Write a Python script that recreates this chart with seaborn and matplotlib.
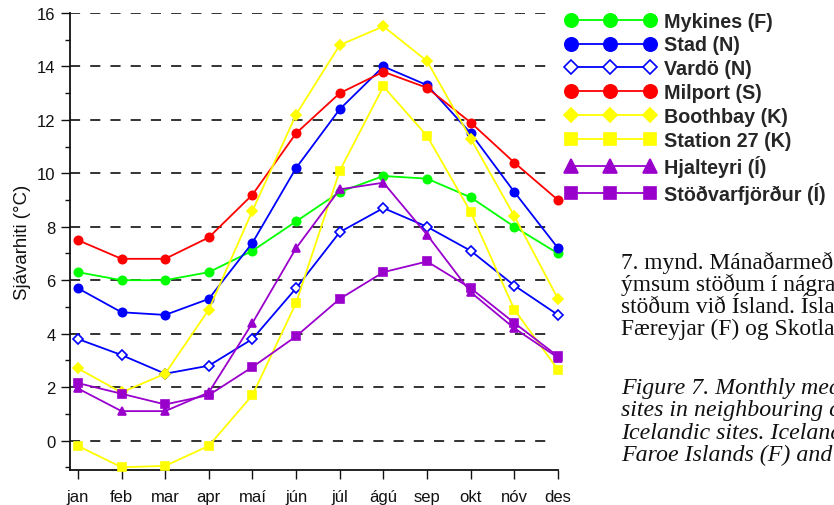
import matplotlib
matplotlib.use("Agg")
import matplotlib.pyplot as plt
import numpy as np
import pandas as pd
import seaborn as sns
from matplotlib.ticker import MultipleLocator

months = ["jan", "feb", "mar", "apr", "maí", "jún", "júl", "ágú", "sep", "okt", "nóv", "des"]

mykines = [6.3, 6.0, 6.0, 6.3, 7.1, 8.2, 9.3, 9.9, 9.8, 9.1, 8.0, 7.0]
stad = [5.7, 4.8, 4.7, 5.3, 7.4, 10.2, 12.4, 14.0, 13.3, 11.5, 9.3, 7.2]
vardo = [3.8, 3.2, 2.5, 2.8, 3.8, 5.7, 7.8, 8.7, 8.0, 7.1, 5.8, 4.7]
milport = [7.5, 6.8, 6.8, 7.6, 9.2, 11.5, 13.0, 13.8, 13.2, 11.9, 10.4, 9.0]
boothbay = [2.7, 1.8, 2.5, 4.9, 8.6, 12.2, 14.8, 15.5, 14.2, 11.3, 8.4, 5.3]
station27 = [-0.2, -1.0, -0.95, -0.2, 1.7, 5.15, 10.1, 13.25, 11.4, 8.55, 4.9, 2.65]
hjalteyri = [1.95, 1.1, 1.1, 1.8, 4.4, 7.2, 9.4, 9.65, 7.7, 5.55, 4.2, 3.1]
stodvarfjordur = [2.15, 1.75, 1.35, 1.7, 2.75, 3.9, 5.3, 6.3, 6.7, 5.7, 4.4, 3.15]

labels = ["Mykines (F)", "Stad (N)", "Vardö (N)", "Milport (S)",
          "Boothbay (K)", "Station 27 (K)", "Hjalteyri (Í)", "Stöðvarfjörður (Í)"]
values = [mykines, stad, vardo, milport, boothbay, station27, hjalteyri, stodvarfjordur]

GREEN, BLUE, RED, YELLOW, PURPLE = "#00ff00", "#0000ff", "#ff0000", "#ffff00", "#9900cc"
styles = [
    dict(color=GREEN, marker="o", mfc=GREEN, ms=6.0),
    dict(color=BLUE, marker="o", mfc=BLUE, ms=6.0),
    dict(color=BLUE, marker="D", mfc="white", ms=4.6),
    dict(color=RED, marker="o", mfc=RED, ms=6.0),
    dict(color=YELLOW, marker="D", mfc=YELLOW, ms=4.6),
    dict(color=YELLOW, marker="s", mfc=YELLOW, ms=5.8),
    dict(color=PURPLE, marker="^", mfc=PURPLE, ms=6.0),
    dict(color=PURPLE, marker="s", mfc=PURPLE, ms=5.8),
]

sns.set_theme(style="white")
plt.rcParams["font.family"] = ["Liberation Sans", "DejaVu Sans"]

fig = plt.figure(figsize=(8.34, 5.06), dpi=100)
ax = fig.add_axes([70 / 834, 1 - 470.9 / 506, 488 / 834, 456.9 / 506])

x = np.arange(len(months))
ax.set_xlim(-0.18, 11.0)
ax.set_ylim(-1.1, 16)

# dashed horizontal guides at every 2 degrees
ax.hlines(np.arange(0, 17, 2), -0.18, 10.88, colors="#222222",
          linewidth=1.3, linestyles=(0, (5.6, 5.6)), zorder=1)

for lab, vals, st in zip(labels, values, styles):
    df = pd.DataFrame({"m": x, "t": vals})
    sns.lineplot(data=df, x="m", y="t", ax=ax, label=lab, color=st["color"],
                 marker=st["marker"], markersize=st["ms"],
                 markerfacecolor=st["mfc"], markeredgecolor=st["color"],
                 markeredgewidth=1.2, linewidth=1.3, clip_on=False, zorder=3)

ax.set_xticks(x)
ax.set_xticklabels(months)
ax.yaxis.set_major_locator(MultipleLocator(2))
ax.yaxis.set_minor_locator(MultipleLocator(1))
ax.set_xlabel("")
ax.set_ylabel("Sjávarhiti (°C)", fontsize=13.4, color="#111111")
ax.yaxis.set_label_coords(-0.08, 0.5)

for side in ("top", "right"):
    ax.spines[side].set_visible(False)
for side in ("left", "bottom"):
    ax.spines[side].set_color("#111111")
    ax.spines[side].set_linewidth(1.3)

ax.tick_params(axis="both", which="major", direction="out", length=6.5, width=1.0,
               color="#111111", labelsize=12, labelcolor="#111111", pad=4)
ax.tick_params(axis="x", which="major", pad=7)
ax.tick_params(axis="y", which="minor", direction="out", length=3.5, width=1.0,
               color="#111111", left=True)
ax.tick_params(axis="x", bottom=True)
ax.tick_params(axis="y", left=True)

leg = ax.legend(loc="upper left", bbox_to_anchor=(565 / 834, 1 - 12.5 / 506),
                bbox_transform=fig.transFigure, frameon=False, numpoints=3,
                handlelength=4.6, handletextpad=0.42, labelspacing=0.25,
                borderpad=0, borderaxespad=0, markerscale=1.6,
                prop={"family": "Liberation Sans", "weight": "bold", "size": 14.2})

caption_is = ["7. mynd. Mánaðarmeðaltal sjávarhita á",
              "ýmsum stöðum í nágrannalöndum og á",
              "stöðum við Ísland. Ísland (Í), Noregur (N),",
              "Færeyjar (F) og Skotland (S)."]
caption_en = ["Figure 7. Monthly mean sea temperature at",
              "sites in neighbouring countries and at",
              "Icelandic sites. Iceland (Í), Norway (N),",
              "Faroe Islands (F) and Scotland (S)."]

for i, line in enumerate(caption_is):
    fig.text(621 / 834, 1 - (269 + 22 * i) / 506, line, va="baseline", ha="left",
             family="Liberation Serif", size=16.9, color="#111111")
for i, line in enumerate(caption_en):
    fig.text(621 / 834, 1 - (394 + 22.3 * i) / 506, line, va="baseline", ha="left",
             family="Liberation Serif", style="italic", size=17.2, color="#111111")

fig.savefig("out.png", dpi=100)
